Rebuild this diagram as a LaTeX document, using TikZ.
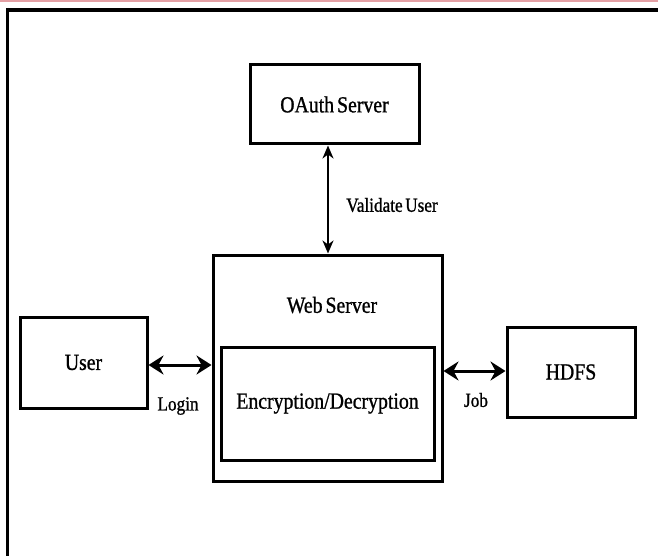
\documentclass[tikz,border=0pt]{standalone}
\usepackage{fontspec}
\setmainfont{Liberation Serif}[FakeStretch=0.86, WordSpace=0.6, FakeBold=1]
\usetikzlibrary{arrows.meta}
\definecolor{pinkstrip}{RGB}{228,160,165}
\tikzset{
  box/.style={draw=black, line width=3pt, minimum width=#1, inner sep=0pt, font=\fontsize{23}{26}\selectfont},
  lbl/.style={font=\fontsize{20}{23}\selectfont, inner sep=0pt},
  thickarrow/.style={{Stealth[length=15pt,width=19pt,inset=5pt]}-{Stealth[length=15pt,width=19pt,inset=5pt]}, line width=3pt},
  thinarrow/.style={{Stealth[length=13pt,width=11pt,inset=4pt]}-{Stealth[length=13pt,width=11pt,inset=4pt]}, line width=1.8pt},
}
\begin{document}
\begin{tikzpicture}[x=1pt,y=-1pt]
\useasboundingbox (0,0) rectangle (658,556);
\fill[white] (0,0) rectangle (658,556);
\fill[pinkstrip] (0,0) rectangle (658,2.5);
% frame
\draw[line width=4pt] (6,10) -- (658,10);
\draw[line width=3pt] (7.5,8) -- (7.5,556);
% boxes
\node[box=169pt, minimum height=79pt] (oauth) at (334.5,104.5) {OAuth Server};
\node[draw=black, line width=3pt, minimum width=229pt, minimum height=226pt, inner sep=0pt] (web) at (327.5,368) {};
\node[font=\fontsize{23}{26}\selectfont, inner sep=0pt] (webt) at (332,305) {Web Server};
\node[box=213pt, minimum height=113pt] (enc) at (327.5,403.5) {Encryption/Decryption};
\node[box=127pt, minimum height=91pt] (user) at (83.5,362.5) {User};
\node[box=128pt, minimum height=90pt] (hdfs) at (571,372) {HDFS};
% connectors
\coordinate (vt) at (328,145.5);
\coordinate (vb) at (328,253.5);
\draw[thinarrow] (vt) -- (vb);
\node[lbl] (val) at (392,205) {Validate User};
\coordinate (ul) at (148.5,365);
\coordinate (ur) at (211.5,365);
\draw[thickarrow] (ul) -- (ur);
\node[lbl] (login) at (178,406) {Login};
\coordinate (jl) at (443.5,371);
\coordinate (jr) at (505.5,371);
\draw[thickarrow] (jl) -- (jr);
\node[lbl] (job) at (476,400) {Job};
\end{tikzpicture}
\end{document}
